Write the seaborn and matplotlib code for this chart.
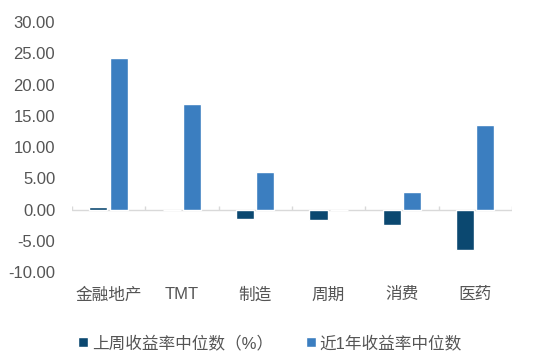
import matplotlib
matplotlib.use("Agg")
import matplotlib.pyplot as plt
import seaborn as sns
import pandas as pd
import numpy as np

categories = ["金融地产", "TMT", "制造", "周期", "消费", "医药"]
series_names = ["上周收益率中位数（%）", "近1年收益率中位数"]
last_week = [0.4, -0.1, -1.5, -1.6, -2.4, -6.5]
last_year = [24.2, 16.9, 6.0, 0.0, 2.8, 13.6]
yticks = [-10, -5, 0, 5, 10, 15, 20, 25, 30]
colors = ["#0b4870", "#3b7ec0"]

sns.set_theme(style="white")
plt.rcParams["font.family"] = ["Liberation Sans", "Noto Sans CJK SC", "DejaVu Sans"]

df = pd.DataFrame({
    "cat": categories * 2,
    "series": [series_names[0]] * len(categories) + [series_names[1]] * len(categories),
    "value": last_week + last_year,
})

fig = plt.figure(figsize=(5.4, 3.57), dpi=100)
ax = fig.add_axes([0.133, 0.238, 0.815, 0.70])

sns.barplot(data=df, x="cat", y="value", hue="series", order=categories,
            hue_order=series_names, palette=colors, width=0.55, gap=0.1,
            saturation=1, ax=ax, legend=True)

ax.set_ylim(-10, 30)
ax.set_xlim(-0.5, len(categories) - 0.5)
ax.set_yticks(yticks)
ax.set_yticklabels([f"{v:.2f}" for v in yticks])
ax.set_xlabel("")
ax.set_ylabel("")
for s in ax.spines.values():
    s.set_visible(False)
ax.axhline(0, color="#d9d9d9", lw=1, zorder=0.5)
ax.vlines(np.arange(len(categories) + 1) - 0.5, 0, 0.5, color="#d9d9d9", lw=1, zorder=0.5)
ax.tick_params(axis="x", length=0, pad=11, labelsize=12, labelcolor="#555555")
ax.tick_params(axis="y", length=0, pad=12, labelsize=12, labelcolor="#555555")

handles, labels = ax.get_legend_handles_labels()
ax.get_legend().remove()
fig.legend(handles, labels, loc="center", bbox_to_anchor=(0.5, 0.039), ncol=2,
           frameon=False, handlelength=0.6, handleheight=0.6, handletextpad=0.2,
           columnspacing=2.0, fontsize=12, labelcolor="#555555")

fig.savefig("out.png", dpi=100)
